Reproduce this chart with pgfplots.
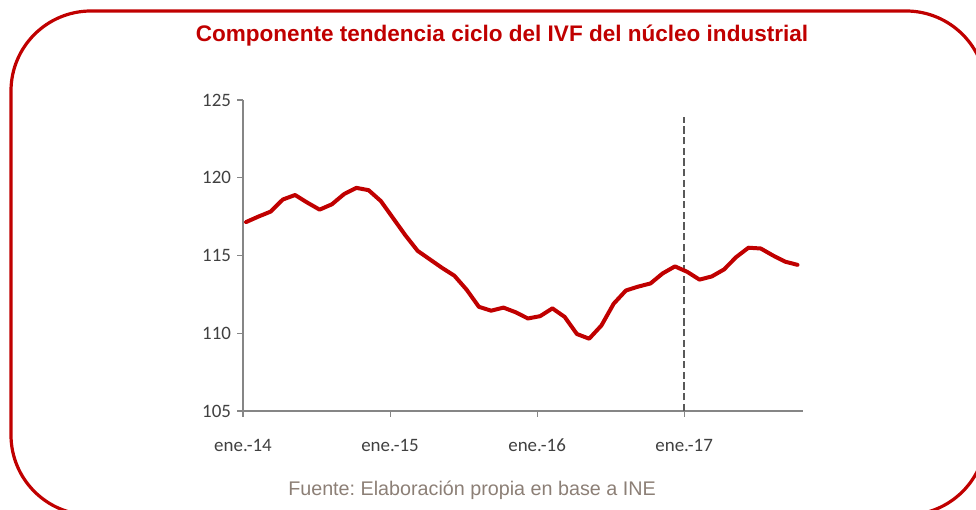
\documentclass[border=0pt]{standalone}
\usepackage{pgfplots}
\pgfplotsset{compat=1.18}
\usepackage{fontspec}
\setmainfont{Carlito}
\newfontfamily\arial{Liberation Sans}
\definecolor{darkred}{HTML}{C00000}
\definecolor{axisgray}{HTML}{868686}
\definecolor{labgray}{HTML}{404040}
\definecolor{dashgray}{HTML}{595959}
\definecolor{srcgray}{HTML}{8C7F76}
\frenchspacing
\begin{document}
\begin{tikzpicture}[x=0.75pt,y=0.75pt]
\useasboundingbox (0,0) rectangle (976,510);
\begin{scope}
\clip (0,0) rectangle (976,510);
\draw[darkred, line width=2.4pt, rounded corners=60pt] (11,-5) rectangle (986,499);
\end{scope}
\node[text=darkred, font=\arial\bfseries\fontsize{16.9}{19}\selectfont] at (502,474) {Componente tendencia ciclo del IVF del núcleo industrial};
\node[text=srcgray, font=\arial\fontsize{14.8}{17}\selectfont] at (472,20) {Fuente: Elaboración propia en base a INE};
\coordinate (O) at (243,99);
\begin{axis}[
  at={(O)}, anchor=south west,
  scale only axis, width=420pt, height=233.25pt,
  xmin=0, xmax=45.7, ymin=105, ymax=125,
  axis lines*=left,
  axis line style={axisgray, line width=1pt},
  tick style={axisgray, line width=0.8pt},
  tick align=outside, major tick length=4.5pt,
  xtick={0,12,24,36}, xticklabels={ene.-14,ene.-15,ene.-16,ene.-17},
  ytick={105,110,115,120,125},
  /pgf/number format/assume math mode=true,
  ticklabel style={font=\fontsize{14.2}{17}\selectfont, text=labgray},
  xticklabel style={yshift=-13pt, text height=9.5pt, text depth=0pt},
  yticklabel style={xshift=-1pt},
  clip=false,
]
\addplot[dashgray, line width=1.8pt, dash pattern=on 5.5pt off 2.5pt] coordinates {(36,105) (36,123.9)};
\addplot[darkred, line width=3pt, line join=round, line cap=round] coordinates {
(0.25,117.15) (1.25,117.5) (2.25,117.82) (3.25,118.6) (4.25,118.89) (5.25,118.4)
(6.25,117.95) (7.25,118.29) (8.25,118.95) (9.25,119.35) (10.25,119.2) (11.25,118.5)
(12.25,117.4) (13.25,116.3) (14.25,115.3) (15.25,114.75) (16.25,114.2) (17.25,113.7)
(18.25,112.8) (19.25,111.7) (20.25,111.45) (21.25,111.65) (22.25,111.35) (23.25,110.95)
(24.25,111.1) (25.25,111.6) (26.25,111.05) (27.25,109.95) (28.25,109.65) (29.25,110.5)
(30.25,111.9) (31.25,112.75) (32.25,113.0) (33.25,113.2) (34.25,113.85) (35.25,114.3)
(36.25,113.95) (37.25,113.45) (38.25,113.65) (39.25,114.1) (40.25,114.9) (41.25,115.5)
(42.25,115.45) (43.25,115.0) (44.25,114.6) (45.25,114.4)
};
\end{axis}
\end{tikzpicture}
\end{document}
